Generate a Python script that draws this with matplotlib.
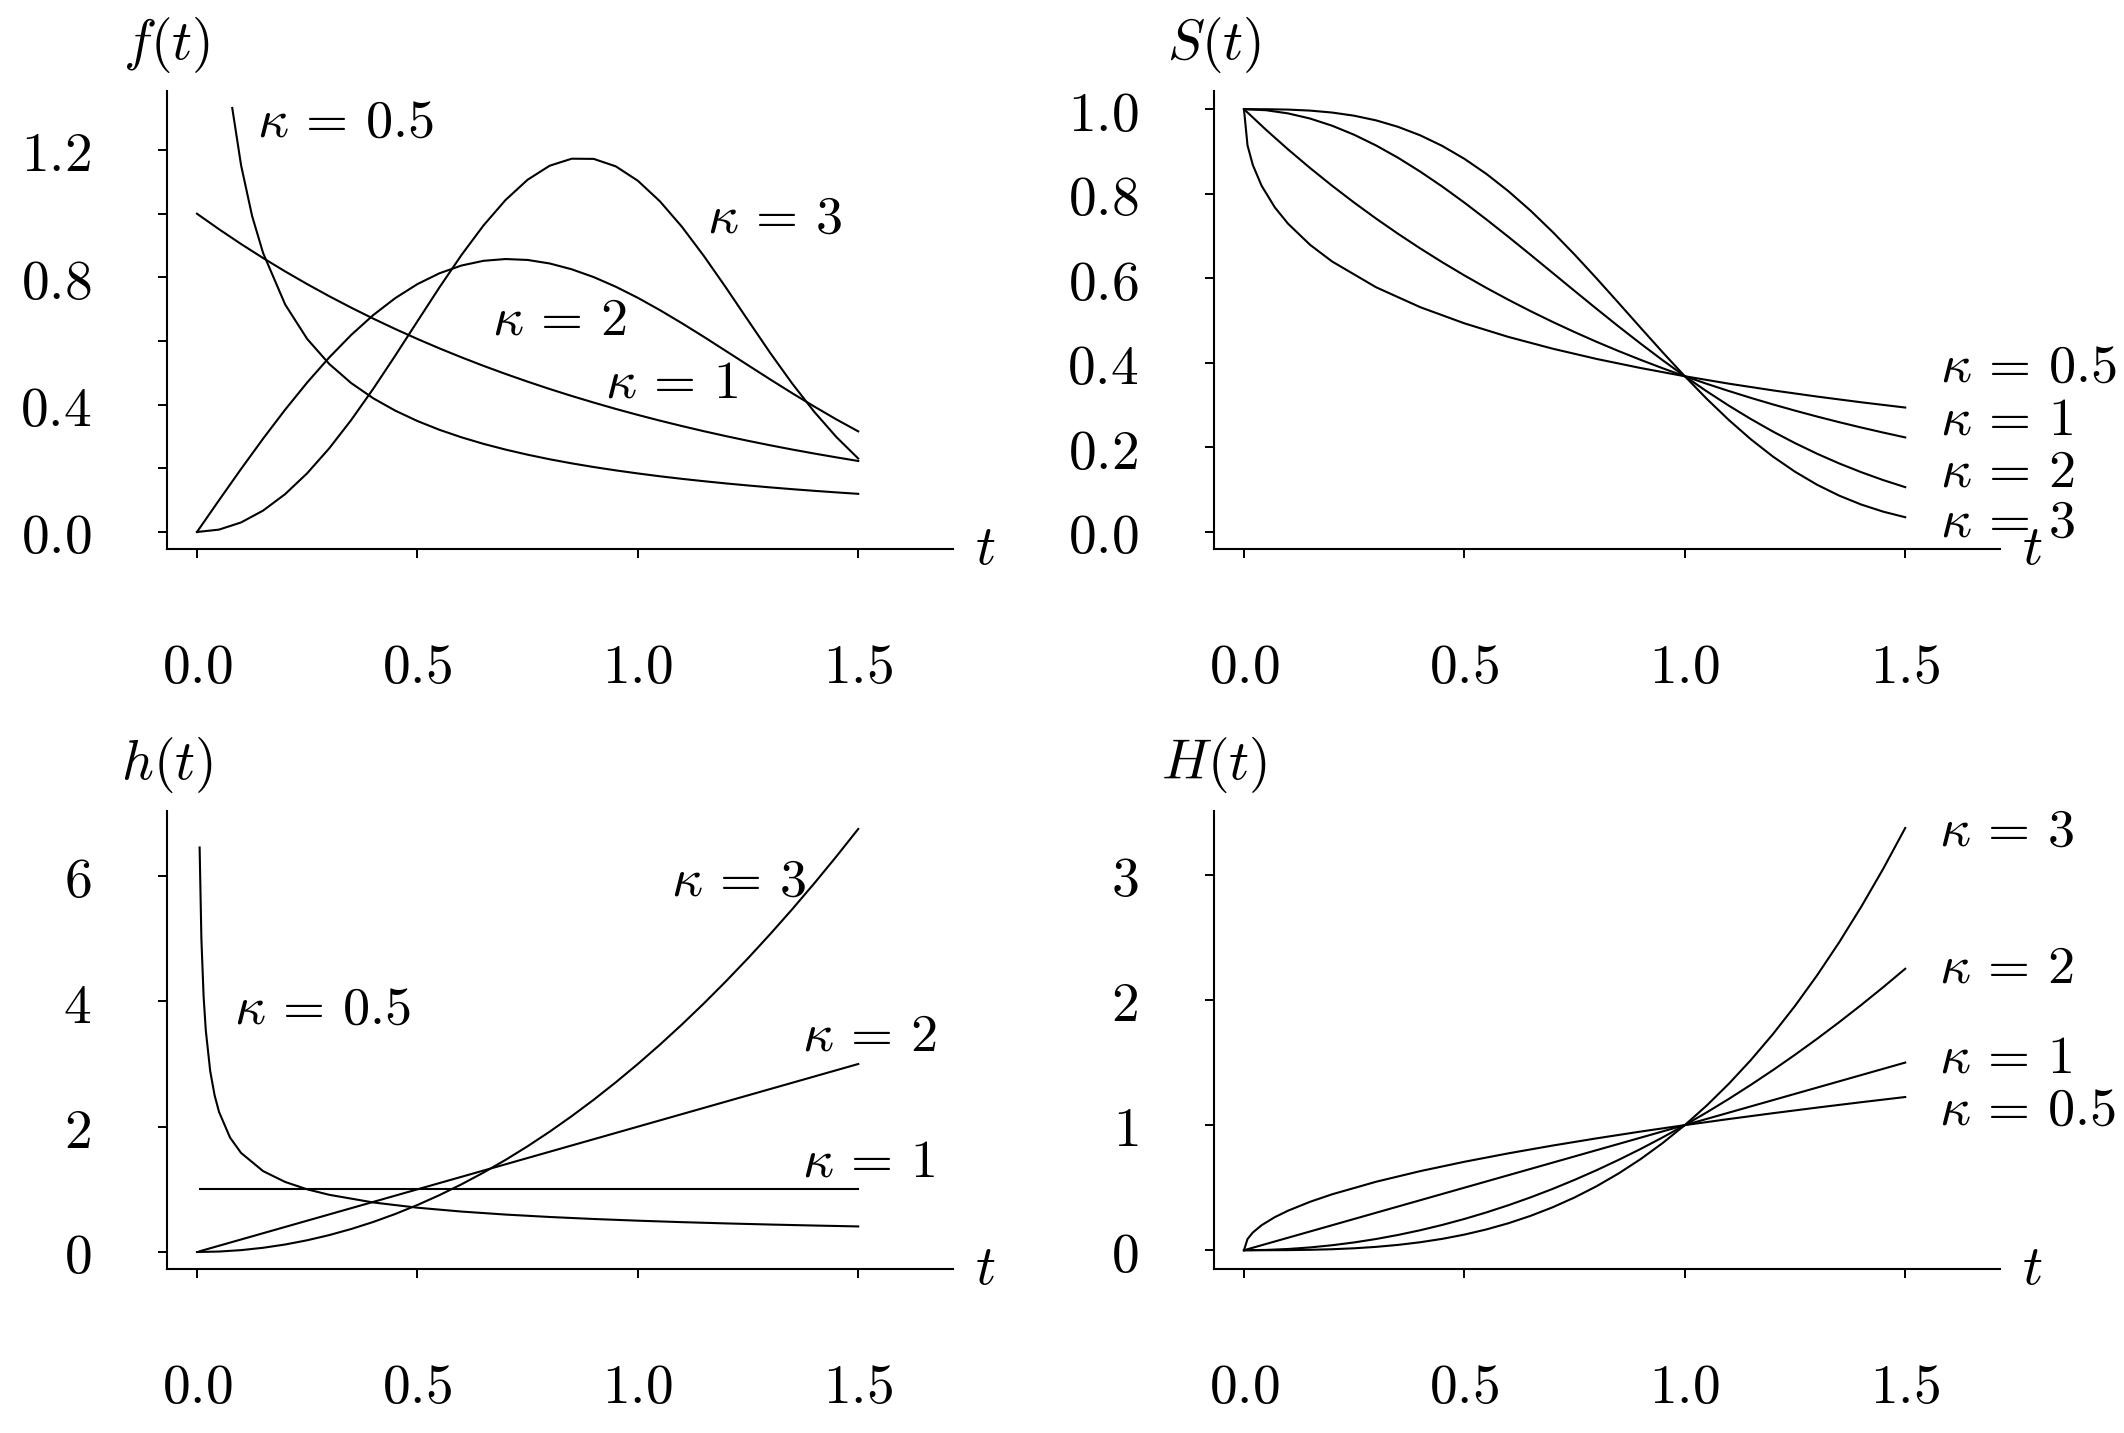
import matplotlib
matplotlib.use("Agg")
import matplotlib.pyplot as plt

plt.rcParams['mathtext.fontset'] = 'cm'
plt.rcParams['font.family'] = ['DejaVu Serif']

# common time grid
t_grid = [0.00, 0.05, 0.10, 0.15, 0.20, 0.25, 0.30, 0.35, 0.40, 0.45, 0.50,
          0.55, 0.60, 0.65, 0.70, 0.75, 0.80, 0.85, 0.90, 0.95, 1.00,
          1.05, 1.10, 1.15, 1.20, 1.25, 1.30, 1.35, 1.40, 1.45, 1.50]

# density f(t)
t_f05 = [0.08, 0.10, 0.125, 0.15, 0.20, 0.25, 0.30, 0.35, 0.40, 0.45, 0.50,
         0.55, 0.60, 0.65, 0.70, 0.75, 0.80, 0.85, 0.90, 0.95, 1.00,
         1.05, 1.10, 1.15, 1.20, 1.25, 1.30, 1.35, 1.40, 1.45, 1.50]
f_k05 = [1.3322, 1.1525, 0.9931, 0.8765, 0.7149, 0.6065, 0.5279, 0.4677, 0.4200, 0.3811, 0.3487,
         0.3211, 0.2975, 0.2769, 0.2589, 0.2429, 0.2285, 0.2157, 0.2041, 0.1936, 0.1840,
         0.1751, 0.1670, 0.1596, 0.1526, 0.1462, 0.1402, 0.1346, 0.1294, 0.1245, 0.1199]
f_k1 = [1.0000, 0.9512, 0.9048, 0.8607, 0.8187, 0.7788, 0.7408, 0.7047, 0.6703, 0.6376, 0.6065,
        0.5769, 0.5488, 0.5220, 0.4966, 0.4724, 0.4493, 0.4274, 0.4066, 0.3867, 0.3679,
        0.3499, 0.3329, 0.3166, 0.3012, 0.2865, 0.2725, 0.2592, 0.2466, 0.2346, 0.2231]
f_k2 = [0.0000, 0.0998, 0.1980, 0.2933, 0.3843, 0.4697, 0.5483, 0.6193, 0.6817, 0.7350, 0.7788,
        0.8128, 0.8372, 0.8520, 0.8576, 0.8547, 0.8437, 0.8254, 0.8008, 0.7706, 0.7358,
        0.6972, 0.6560, 0.6130, 0.5686, 0.5240, 0.4797, 0.4363, 0.3945, 0.3541, 0.3162]
f_k3 = [0.0000, 0.0075, 0.0300, 0.0673, 0.1190, 0.1846, 0.2628, 0.3521, 0.4502, 0.5546, 0.6619,
        0.7684, 0.8702, 0.9632, 1.0431, 1.1067, 1.1507, 1.1728, 1.1722, 1.1488, 1.1036,
        1.0392, 0.9590, 0.8669, 0.7677, 0.6652, 0.5633, 0.4669, 0.3781, 0.2990, 0.2309]

# survival S(t)
t_s05 = [0.00, 0.008, 0.02, 0.04, 0.07, 0.10, 0.15, 0.20, 0.30, 0.40, 0.50,
         0.60, 0.70, 0.80, 0.90, 1.00, 1.10, 1.20, 1.30, 1.40, 1.50]
S_k05 = [1.0000, 0.9144, 0.8681, 0.8187, 0.7675, 0.7289, 0.6789, 0.6394, 0.5783, 0.5313, 0.4931,
         0.4609, 0.4332, 0.4088, 0.3873, 0.3679, 0.3503, 0.3344, 0.3198, 0.3063, 0.2938]
S_k1 = f_k1
S_k2 = [1.0000, 0.9975, 0.9900, 0.9778, 0.9608, 0.9394, 0.9139, 0.8847, 0.8521, 0.8167, 0.7788,
        0.7389, 0.6977, 0.6554, 0.6126, 0.5698, 0.5273, 0.4855, 0.4449, 0.4056, 0.3679,
        0.3320, 0.2982, 0.2665, 0.2369, 0.2096, 0.1845, 0.1616, 0.1409, 0.1221, 0.1054]
S_k3 = [1.0000, 0.9999, 0.9990, 0.9966, 0.9920, 0.9845, 0.9734, 0.9580, 0.9380, 0.9129, 0.8825,
        0.8467, 0.8057, 0.7599, 0.7096, 0.6558, 0.5993, 0.5411, 0.4824, 0.4243, 0.3679,
        0.3142, 0.2642, 0.2185, 0.1777, 0.1419, 0.1111, 0.0854, 0.0643, 0.0474, 0.0342]

# hazard h(t)
t_h05 = [0.006, 0.01, 0.015, 0.02, 0.03, 0.04, 0.05, 0.075, 0.10, 0.15, 0.20, 0.25,
         0.30, 0.40, 0.50, 0.60, 0.70, 0.80, 0.90, 1.00, 1.10, 1.20, 1.30, 1.40, 1.50]
h_k05 = [6.455, 5.000, 4.082, 3.536, 2.887, 2.500, 2.236, 1.826, 1.581, 1.291, 1.118, 1.000,
         0.9129, 0.7906, 0.7071, 0.6455, 0.5976, 0.5590, 0.5270, 0.5000, 0.4767, 0.4564,
         0.4385, 0.4226, 0.4082]
t_line = [0.006, 1.50]
h_k1 = [1.0, 1.0]
h_k2 = [0.012, 3.0]
h_k3 = [0.0, 0.0075, 0.03, 0.0675, 0.12, 0.1875, 0.27, 0.3675, 0.48, 0.6075, 0.75,
        0.9075, 1.08, 1.2675, 1.47, 1.6875, 1.92, 2.1675, 2.43, 2.7075, 3.0,
        3.3075, 3.63, 3.9675, 4.32, 4.6875, 5.07, 5.4675, 5.88, 6.3075, 6.75]

# cumulative hazard H(t)
H_k05 = [0.0, 0.0894, 0.1414, 0.2000, 0.2646, 0.3162, 0.3873, 0.4472, 0.5477, 0.6325, 0.7071,
         0.7746, 0.8367, 0.8944, 0.9487, 1.0000, 1.0488, 1.0954, 1.1402, 1.1832, 1.2247]
t_H1 = [0.0, 1.5]
H_k1 = [0.0, 1.5]
H_k2 = [0.0, 0.0025, 0.01, 0.0225, 0.04, 0.0625, 0.09, 0.1225, 0.16, 0.2025, 0.25,
        0.3025, 0.36, 0.4225, 0.49, 0.5625, 0.64, 0.7225, 0.81, 0.9025, 1.0,
        1.1025, 1.21, 1.3225, 1.44, 1.5625, 1.69, 1.8225, 1.96, 2.1025, 2.25]
H_k3 = [0.0, 0.0001, 0.001, 0.0034, 0.008, 0.0156, 0.027, 0.0429, 0.064, 0.0911, 0.125,
        0.1664, 0.216, 0.2746, 0.343, 0.4219, 0.512, 0.6141, 0.729, 0.8574, 1.0,
        1.1576, 1.331, 1.5209, 1.728, 1.9531, 2.197, 2.4604, 2.744, 3.0486, 3.375]

x_ticks = [0.0, 0.5, 1.0, 1.5]
x_ticklabels = ['0.0', '0.5', '1.0', '1.5']

W, HP = 2124, 1433
AW, AH = 786, 458
FS = 40
LW = 1.5


def kappa(v):
    return r'$\kappa\,=\,' + v + '$'


def panel(left, top, ylim, yticks, ylabels, name):
    ax = fig.add_axes([left / W, 1 - (top + AH) / HP, AW / W, AH / HP])
    ax.set_xlim(-0.068, 1.715)
    ax.set_ylim(*ylim)
    for s in ['top', 'right']:
        ax.spines[s].set_visible(False)
    for s in ['left', 'bottom']:
        ax.spines[s].set_linewidth(1.5)
    ax.set_xticks(x_ticks)
    ax.set_xticklabels(['$' + l + '$' for l in x_ticklabels], fontsize=FS)
    ax.set_yticks(yticks)
    ax.set_yticklabels(['$' + l + '$' if l else '' for l in ylabels], fontsize=FS)
    ax.tick_params(axis='both', direction='out', length=6.5, width=1.4)
    ax.tick_params(axis='x', pad=59)
    ax.tick_params(axis='y', pad=48)
    ax.text(0, 1.035, name, transform=ax.transAxes, ha='center', va='bottom', fontsize=FS)
    ax.text(1 + 22 / AW, 0, '$t$', transform=ax.transAxes, ha='left', va='center', fontsize=FS)
    return ax


fig = plt.figure(figsize=(21.24, 14.33), dpi=100)
kw = dict(color='black', lw=LW)
lab = dict(fontsize=39, ha='left', va='center')

ax1 = panel(167, 91, (-0.0534, 1.3855), [0, 0.2, 0.4, 0.6, 0.8, 1.0, 1.2],
            ['0.0', '', '0.4', '', '0.8', '', '1.2'], '$f(t)$')
ax1.plot(t_f05, f_k05, **kw)
ax1.plot(t_grid, f_k1, **kw)
ax1.plot(t_grid, f_k2, **kw)
ax1.plot(t_grid, f_k3, **kw)
ax1.text(0.136, 1.288, kappa('0.5'), **lab)
ax1.text(1.157, 0.986, kappa('3'), **lab)
ax1.text(0.669, 0.666, kappa('2'), **lab)
ax1.text(0.926, 0.471, kappa('1'), **lab)

ax2 = panel(1214, 91, (-0.041, 1.043), [0, 0.2, 0.4, 0.6, 0.8, 1.0],
            ['0.0', '0.2', '0.4', '0.6', '0.8', '1.0'], '$S(t)$')
ax2.plot(t_s05, S_k05, **kw)
ax2.plot(t_grid, S_k1, **kw)
ax2.plot(t_grid, S_k2, **kw)
ax2.plot(t_grid, S_k3, **kw)
ax2.text(1.579, 0.390, kappa('0.5'), **lab)
ax2.text(1.579, 0.266, kappa('1'), **lab)
ax2.text(1.579, 0.143, kappa('2'), **lab)
ax2.text(1.579, 0.024, kappa('3'), **lab)

ax3 = panel(167, 811, (-0.271, 7.037), [0, 2, 4, 6], ['0', '2', '4', '6'], '$h(t)$')
ax3.plot(t_h05, h_k05, **kw)
ax3.plot(t_line, h_k1, **kw)
ax3.plot(t_line, h_k2, **kw)
ax3.plot(t_grid, h_k3, **kw)
ax3.text(1.076, 5.92, kappa('3'), **lab)
ax3.text(0.084, 3.89, kappa('0.5'), **lab)
ax3.text(1.373, 3.46, kappa('2'), **lab)
ax3.text(1.373, 1.44, kappa('1'), **lab)

ax4 = panel(1214, 811, (-0.15, 3.511), [0, 1, 2, 3], ['0', '1', '2', '3'], '$H(t)$')
ax4.plot(t_s05, H_k05, **kw)
ax4.plot(t_H1, H_k1, **kw)
ax4.plot(t_grid, H_k2, **kw)
ax4.plot(t_grid, H_k3, **kw)
ax4.text(1.577, 3.35, kappa('3'), **lab)
ax4.text(1.577, 2.26, kappa('2'), **lab)
ax4.text(1.577, 1.54, kappa('1'), **lab)
ax4.text(1.577, 1.12, kappa('0.5'), **lab)

fig.savefig('out.png', dpi=100)
